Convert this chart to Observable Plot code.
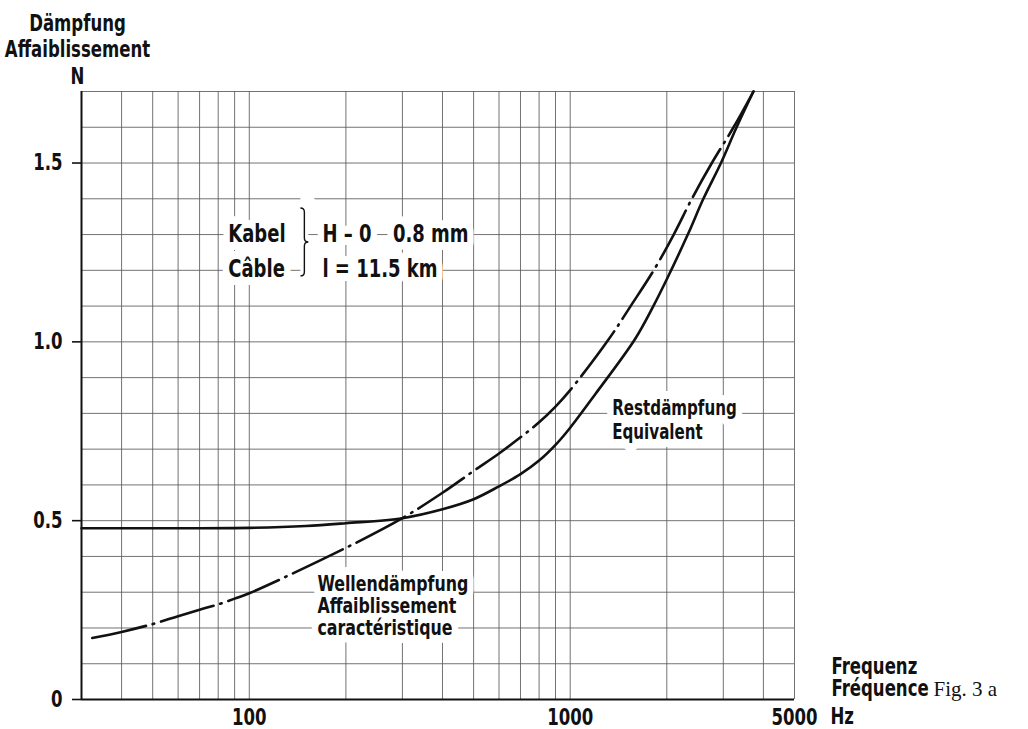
<!DOCTYPE html>
<html><head><meta charset="utf-8">
<script src="https://cdn.jsdelivr.net/npm/d3@7"></script>
<script src="https://cdn.jsdelivr.net/npm/@observablehq/plot@0.6"></script>
<style>
body{margin:0;background:#fff;}
#chart svg{display:block}
</style></head><body><div id="chart"></div>
<script>
const FONT = '"DejaVu Sans Condensed", "DejaVu Sans", sans-serif';
const SERIF = '"Liberation Serif", "DejaVu Serif", serif';
const SX = 0.8; // horizontal condensing of the sans texts

// scales / ticks
const xDomain = [30, 5000];
const yDomain = [0, 1.7];
const xGrid = [40, 50, 60, 70, 80, 90, 100, 200, 300, 400, 500, 600, 700, 800, 900, 1000, 2000, 3000, 4000, 5000];
const yGrid = [0.1, 0.2, 0.3, 0.4, 0.5, 0.6, 0.7, 0.8, 0.9, 1.0, 1.1, 1.2, 1.3, 1.4, 1.5, 1.6, 1.7];
const yTicks = [0, 0.5, 1.0, 1.5];
const xTicks = [100, 1000, 5000];

// Restdämpfung (solid)
const restFreq = [30, 100, 150, 200, 300, 400, 500, 600, 700, 800, 900, 1000, 1200, 1593, 1816, 2000, 2325, 2600, 2950, 3300, 3724];
const restVal  = [0.479, 0.480, 0.485, 0.493, 0.507, 0.532, 0.560, 0.596, 0.630, 0.668, 0.712, 0.760, 0.855, 1.008, 1.100, 1.175, 1.300, 1.400, 1.500, 1.600, 1.700];

// Wellendämpfung (dash-dot)
const wellFreq = [32.4, 40, 50, 60, 70, 80, 90, 100, 200, 300, 400, 500, 600, 700, 800, 900, 1000, 1320, 1543, 1821, 2102, 2394, 2763, 3229, 3724];
const wellVal  = [0.172, 0.189, 0.211, 0.233, 0.251, 0.266, 0.282, 0.297, 0.424, 0.507, 0.578, 0.639, 0.688, 0.733, 0.775, 0.819, 0.865, 1.008, 1.100, 1.200, 1.300, 1.400, 1.500, 1.600, 1.700];

// texts
const yTitle = "Dämpfung\nAffaiblissement\nN";
const xTitle = "Frequenz\nFréquence";
const xUnit = "Hz";
const figLabel = "Fig. 3 a";
const wellLabel = "Wellendämpfung\nAffaiblissement\ncaractéristique";
const restLabel = "Restdämpfung\nEquivalent";
const cableLabel = "Kabel\nCâble";
const cableSpec = "H – 0\u00a0\u2002\u00a00.8 mm\nl = 11.5 km";

const rest = restFreq.map((f, i) => ({f, v: restVal[i]}));
const well = wellFreq.map((f, i) => ({f, v: wellVal[i]}));

function note(text, fx, vy, size, lh) {
  const common = {x: () => fx, y: () => vy, text: d => d, textAnchor: "start", lineAnchor: "top",
    fontSize: size, lineHeight: lh, fontFamily: FONT, fontWeight: "bold"};
  return [
    Plot.text([text], {...common, fill: "white", stroke: "white", strokeWidth: 16, strokeLinejoin: "round"}),
    Plot.text([text], {...common, fill: "#111"})
  ];
}

function brace(index, scales) {
  const x = scales.x(149), y1 = scales.y(1.373), y2 = scales.y(1.183);
  const ym = (y1 + y2) / 2, w = 4;
  const p = d3.path();
  p.moveTo(x - w, y1);
  p.quadraticCurveTo(x, y1, x, y1 + w);
  p.lineTo(x, ym - w);
  p.quadraticCurveTo(x, ym, x + w, ym);
  p.quadraticCurveTo(x, ym, x, ym + w);
  p.lineTo(x, y2 - w);
  p.quadraticCurveTo(x, y2, x - w, y2);
  const g = d3.create("svg:g");
  g.append("path").attr("d", p.toString()).attr("fill", "none").attr("stroke", "white").attr("stroke-width", 30);
  g.append("path").attr("d", p.toString()).attr("fill", "none").attr("stroke", "#111").attr("stroke-width", 1.4);
  return g.node();
}

const chart = Plot.plot({
  width: 1028, height: 729,
  marginLeft: 81, marginRight: 234, marginTop: 91, marginBottom: 30,
  x: {type: "log", domain: xDomain, axis: null},
  y: {domain: yDomain},
  style: {fontFamily: FONT, fontSize: "22px", fontWeight: "bold", color: "#111", background: "white"},
  marks: [
    Plot.ruleX(xGrid, {stroke: "#5a5a5a", strokeWidth: 0.85}),
    Plot.ruleY(yGrid, {stroke: "#5a5a5a", strokeWidth: 0.85}),
    ...note(wellLabel, 163, 0.347, 22, 1.0),
    ...note(restLabel, 1352, 0.8415, 21, 1.12),
    brace,
    ...note(cableLabel, 86, 1.35, 25, 1.4),
    ...note(cableSpec, 169, 1.35, 25, 1.4),
    Plot.line(rest, {x: "f", y: "v", curve: "catmull-rom", stroke: "#111", strokeWidth: 2.6}),
    Plot.line(well, {x: "f", y: "v", curve: "catmull-rom", stroke: "#111", strokeWidth: 2.6, strokeDasharray: "55,7,1.5,7"}),
    Plot.ruleX([xDomain[0]], {stroke: "#111", strokeWidth: 2}),
    Plot.ruleY([yDomain[0]], {stroke: "#111", strokeWidth: 2}),
    Plot.axisY({ticks: yTicks, tickSize: 9, tickPadding: 10, strokeWidth: 1.6, label: null,
      tickFormat: d => d === 0 ? "0" : d.toFixed(1), fontSize: 23}),
    Plot.text(xTicks, {x: d => d, frameAnchor: "bottom", text: d => String(d), lineAnchor: "top",
      textAnchor: "middle", dy: 9, fontSize: 23}),
    Plot.text([yTitle], {frameAnchor: "top-left", text: d => d, textAnchor: "middle", lineAnchor: "bottom",
      dx: -4, dy: -8, lineHeight: 1.15, fontSize: 23}),
    Plot.text([xTitle], {frameAnchor: "bottom-right", text: d => d, textAnchor: "start", lineAnchor: "bottom",
      dx: 37, dy: -4, lineHeight: 0.93, fontSize: 23}),
    Plot.text([xUnit], {frameAnchor: "bottom-right", text: d => d, textAnchor: "start", lineAnchor: "bottom",
      dx: 36, dy: 24, fontSize: 23}),
    Plot.text([figLabel], {frameAnchor: "bottom-right", text: d => d, textAnchor: "start", lineAnchor: "bottom",
      dx: 139, dy: -4, fontSize: 21, fontFamily: SERIF, fontWeight: "normal"})
  ]
});
document.getElementById("chart").append(chart);

// condense the sans-serif lettering horizontally around each text's anchor
chart.querySelectorAll("text").forEach(t => {
  const cs = getComputedStyle(t);
  if (/Serif/.test(cs.fontFamily)) return;
  const b = t.getBBox();
  const a = cs.getPropertyValue("text-anchor");
  const cx = a === "middle" ? b.x + b.width / 2 : a === "end" ? b.x + b.width : b.x;
  const tr = t.getAttribute("transform") || "";
  t.setAttribute("transform", `${tr} translate(${cx},0) scale(${SX},1) translate(${-cx},0)`);
});
</script>
</body></html>
